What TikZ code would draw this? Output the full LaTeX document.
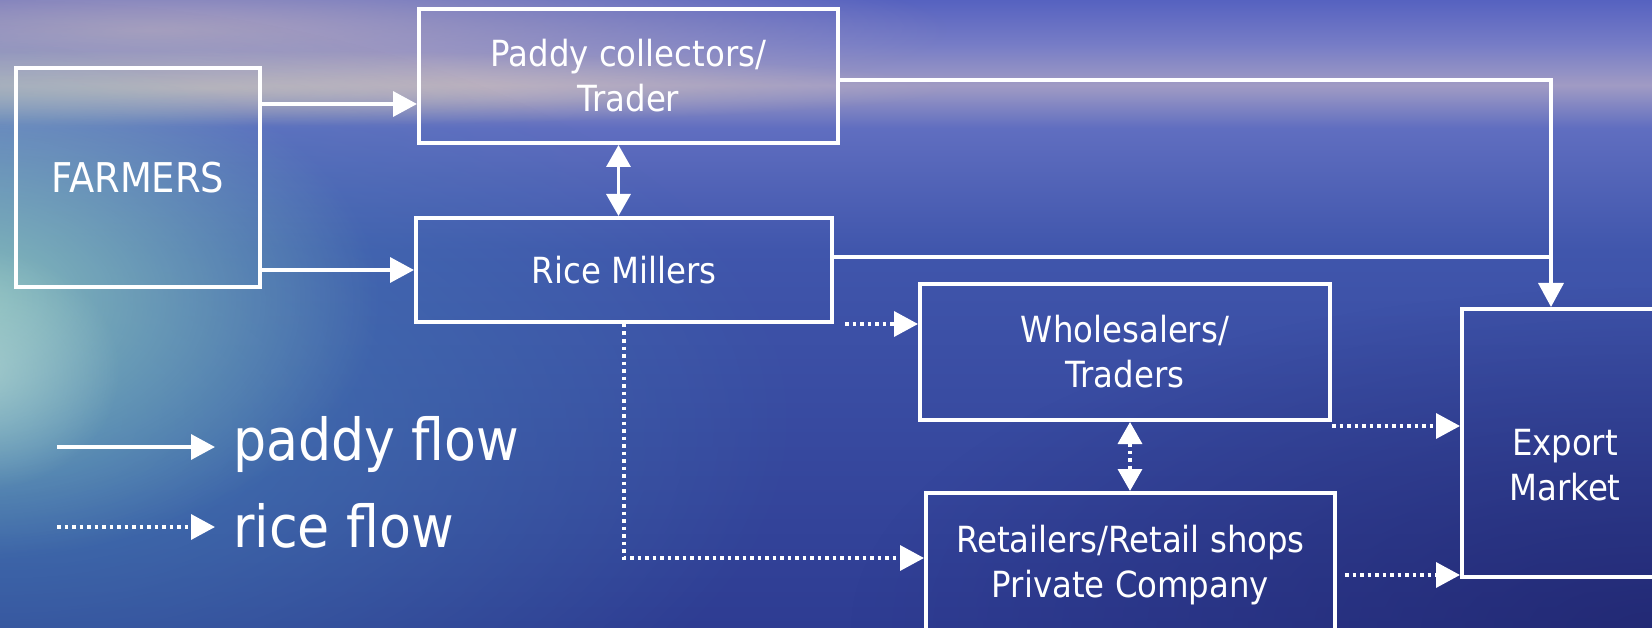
\documentclass[tikz,border=0pt]{standalone}
\usepackage{fontspec}
\setmainfont{DejaVu Sans Condensed}
\usetikzlibrary{arrows.meta,fadings}

\definecolor{skytop}{RGB}{86,98,192}
\definecolor{skylow}{RGB}{118,124,198}
\definecolor{horizon}{RGB}{160,155,196}
\definecolor{seatop}{RGB}{96,110,192}
\definecolor{seamid}{RGB}{64,86,172}
\definecolor{seabottom}{RGB}{46,60,146}
\definecolor{skyleft}{RGB}{185,172,190}
\definecolor{horizonleft}{RGB}{222,208,188}
\definecolor{sealeft}{RGB}{70,130,182}
\definecolor{glowteal}{RGB}{145,200,190}
\definecolor{deepnavy}{RGB}{30,34,105}

\pgfdeclareverticalshading{seasky}{100bp}{color(0bp)=(seabottom); color(25bp)=(seabottom);
color(55.1bp)=(seamid); color(64.8bp)=(seatop); color(68.2bp)=(horizon); color(71.5bp)=(skylow);
color(75bp)=(skytop); color(100bp)=(skytop)}
\tikzfading[name=glowfade, inner color=transparent!0, outer color=transparent!100]

\begin{document}
\begin{tikzpicture}[x=1pt,y=-1pt]
\tikzstyle{block} = [rectangle, draw=white, line width=4pt, text=white,
align=center, inner sep=0pt, font=\fontsize{36}{45}\selectfont]
\tikzstyle{paddyline} = [draw=white, line width=3.5pt, -{Triangle[length=24pt,width=25pt]}]
\tikzstyle{riceline} = [paddyline, dash pattern=on 3.5pt off 4pt]
\tikzstyle{keytext} = [text=white, inner sep=0pt, font=\fontsize{58}{70}\selectfont]
\useasboundingbox (0,0) rectangle (1652,628);
% sky and sea
\shade[shading=seasky] (0,0) rectangle (1652,628);
\fill[skyleft, path fading=glowfade, fill opacity=0.8] (150,30) ellipse (800 and 90);
\fill[horizonleft, path fading=glowfade, fill opacity=0.6] (200,88) ellipse (750 and 38);
\fill[sealeft, path fading=glowfade, fill opacity=0.8] (0,420) ellipse (800 and 420);
\fill[glowteal, path fading=glowfade, fill opacity=0.9] (-40,300) ellipse (420 and 260);
\fill[white!40!glowteal, path fading=glowfade, fill opacity=0.6] (-20,370) ellipse (140 and 120);
\fill[deepnavy, path fading=glowfade, fill opacity=0.7] (1652,628) ellipse (800 and 340);

% boxes
\node [block, minimum width=244pt, minimum height=219pt, font=\fontsize{41}{49}\selectfont] (farmers) at (138,177.5) {FARMERS};
\node [block, minimum width=419pt, minimum height=134pt] (collectors) at (628.5,76) {Paddy collectors/\\Trader};
\node [block, minimum width=416pt, minimum height=104pt] (millers) at (624,270) {Rice Millers};
\node [block, minimum width=410pt, minimum height=136pt] (wholesalers) at (1125,352) {Wholesalers/\\Traders};
\node [block, minimum width=409pt, minimum height=144pt] (retailers) at (1130.5,565) {Retailers/Retail shops\\Private Company};
\node [block, minimum width=206pt, minimum height=268pt,
label={[text=white, align=center, font=\fontsize{36}{45}\selectfont, yshift=-22pt]center:Export\\Market}] (export) at (1565,443) {};

% paddy flow
\draw[paddyline] ([yshift=-38pt]farmers.north east) -- ([yshift=-38pt]farmers.north east -| collectors.west);
\draw[paddyline] ([yshift=19pt]farmers.south east) -- ([yshift=19pt]farmers.south east -| millers.west);
\draw[paddyline, {Triangle[length=22pt,width=24pt]}-{Triangle[length=22pt,width=24pt]}] ([xshift=-10pt]collectors.south) -- ([xshift=-10pt]collectors.south |- millers.north);
\draw[paddyline] ([yshift=-4pt]collectors.east) -| ([xshift=-14pt]export.north);
\draw[paddyline, -] ([yshift=13pt]millers.east) -- ([xshift=-12pt, yshift=13pt]millers.east -| export.north);

% rice flow
\draw[riceline] ([xshift=11pt]millers.south east) -- (millers.south east -| wholesalers.west);
\draw[riceline] (millers.south) |- ([yshift=7pt]retailers.west);
\draw[riceline, {Triangle[length=22pt,width=24pt]}-{Triangle[length=22pt,width=24pt]}] ([xshift=5pt]wholesalers.south) -- ([xshift=5pt]wholesalers.south |- retailers.north);
\draw[riceline] ([yshift=-4pt]wholesalers.south east) -- ([yshift=-4pt]wholesalers.south east -| export.west);
\draw[riceline] ([xshift=8pt, yshift=-10pt]retailers.east) -- ([yshift=-10pt]retailers.east -| export.west);

% key
\node [keytext, anchor=base west] (paddykey) at (233,460) {paddy flow};
\node [keytext, anchor=base west] (ricekey) at (233,547) {rice flow};
\coordinate (paddykeystart) at (57,447);
\coordinate (ricekeystart) at (57,527);
\draw[paddyline] (paddykeystart) -- ([xshift=-18pt]paddykeystart -| paddykey.west);
\draw[riceline] (ricekeystart) -- ([xshift=-18pt]ricekeystart -| ricekey.west);
\end{tikzpicture}
\end{document}
